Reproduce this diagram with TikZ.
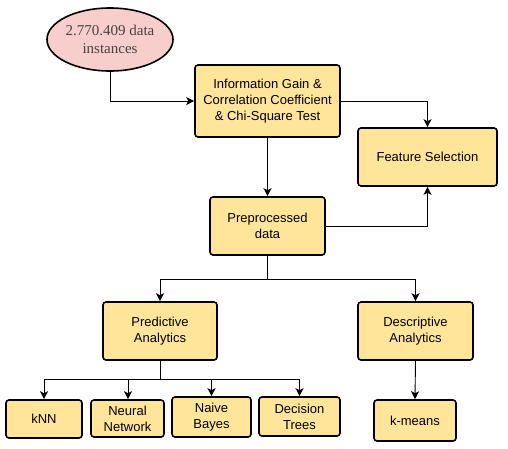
\documentclass[tikz,border=0pt]{standalone}
\usepackage{fontspec}
\setmainfont{Liberation Sans}
\newfontfamily\serifface{Liberation Serif}
\usetikzlibrary{arrows.meta,shapes.geometric}
\definecolor{boxfill}{HTML}{FFE599}
\definecolor{ellfill}{HTML}{F8CECC}
\definecolor{elltext}{HTML}{444444}
\tikzset{
  box/.style={draw=black, line width=1.6pt, rounded corners=3pt, fill=boxfill,
    align=center, inner sep=0pt, font=\fontsize{13}{16}\selectfont},
  ell/.style={draw=black, line width=1.6pt, ellipse, fill=ellfill, align=center,
    inner sep=0pt, text=elltext, font=\serifface\fontsize{15}{18}\selectfont},
  conn/.style={draw=black, line width=0.9pt, -{Stealth[length=8pt,width=8pt,inset=2pt]}},
  plain/.style={draw=black, line width=0.9pt}
}
\begin{document}
\begin{tikzpicture}[x=1pt,y=-1pt]
\useasboundingbox (0,0) rectangle (508,448);
\node[ell, minimum width=126pt, minimum height=63pt] (data) at (110,39.5) {2.770.409 data\\instances};
\node[box, minimum width=145pt, minimum height=72pt] (info) at (267.5,101) {Information Gain \&\\Correlation Coefficient\\\& Chi-Square Test};
\node[box, minimum width=139pt, minimum height=58pt] (fs) at (427.5,157) {Feature Selection};
\node[box, minimum width=115pt, minimum height=58pt] (pre) at (267.5,226) {Preprocessed\\data};
\node[box, minimum width=114pt, minimum height=58pt] (pred) at (160,331) {Predictive\\Analytics};
\node[box, minimum width=115pt, minimum height=58pt] (desc) at (415.5,331) {Descriptive\\Analytics};
\node[box, minimum width=76pt, minimum height=38pt] (knn) at (44,419) {kNN};
\node[box, minimum width=73pt, minimum height=37pt] (nn) at (127.5,418.5) {Neural\\Network};
\node[box, minimum width=79pt, minimum height=40pt] (nb) at (211.5,417) {Naive\\Bayes};
\node[box, minimum width=81pt, minimum height=39pt] (dt) at (299.5,416.5) {Decision\\Trees};
\node[box, minimum width=82pt, minimum height=41pt] (km) at (415,420.5) {k-means};
\coordinate (j1) at (267.5,279);
\coordinate (j2) at (160,379);
\draw[conn] (data.south) |- (info.west);
\draw[conn] (info.east) -| (fs.north);
\draw[conn] (info.south) -- (pre.north);
\draw[conn] (pre.east) -| (fs.south);
\draw[plain] (pre.south) -- (j1);
\draw[conn] (j1) -| (pred.north);
\draw[conn] (j1) -| (desc.north);
\draw[plain] (pred.south) -- (j2);
\draw[conn] (j2) -| (knn.north);
\draw[conn] (j2) -| ([xshift=0.5pt]nn.north);
\draw[conn] (j2) -| (nb.north);
\draw[conn] (j2) -| (dt.north);
\draw[conn] (desc.south) -- (km.north);
\end{tikzpicture}
\end{document}
